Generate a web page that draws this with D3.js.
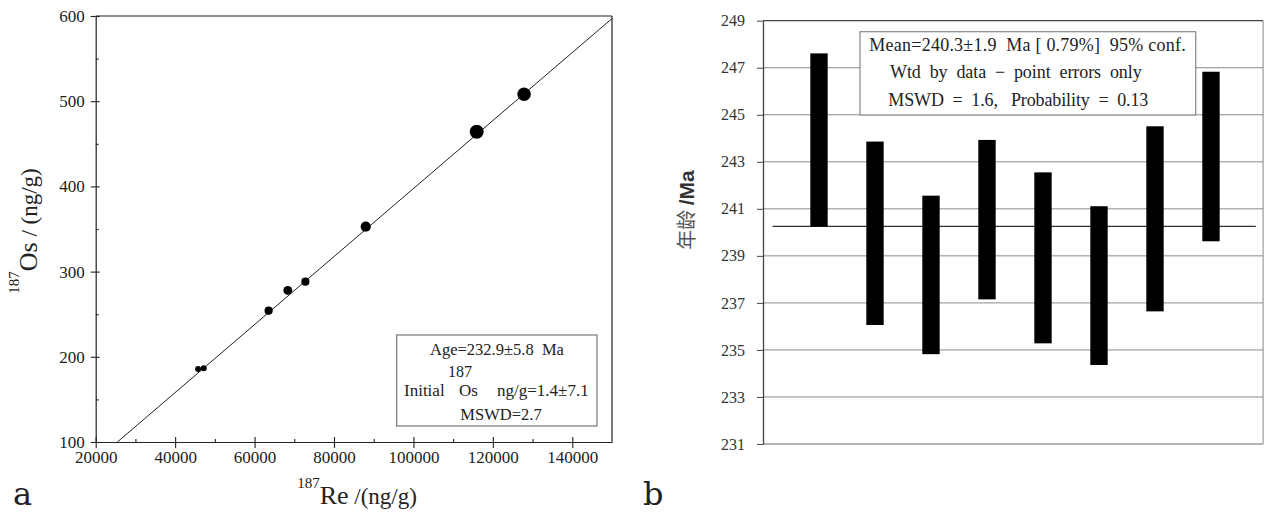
<!DOCTYPE html>
<html><head><meta charset="utf-8">
<script src="https://cdn.jsdelivr.net/npm/d3@7"></script>
<style>body{margin:0;background:#fff}</style>
</head><body><svg id="c" width="1265" height="513"></svg>
<script>
// ---------- Panel a data: Re-Os isochron ----------
const reValues = [45780, 47210, 63540, 68370, 72790, 87990, 115930, 127860];
const osValues = [185.7, 186.5, 254.1, 278.0, 288.2, 352.7, 464.2, 508.1];
const osErrors = [3.5, 3.5, 4.8, 5.2, 4.8, 6.0, 8.2, 7.9];
const isochronRe = [25460, 150000];
const isochronOs = [100, 597];
const xTicksA = [20000, 40000, 60000, 80000, 100000, 120000, 140000];
const xMinorA = [30000, 50000, 70000, 90000, 110000, 130000];
const yTicksA = [100, 200, 300, 400, 500, 600];
const yMinorA = [150, 250, 350, 450, 550];
// ---------- Panel b data: weighted mean ages ----------
const samples = [1, 2, 3, 4, 5, 6, 7, 8];
const ageHigh = [247.61, 243.86, 241.56, 243.93, 242.55, 241.11, 244.51, 246.83];
const ageLow  = [240.24, 236.06, 234.82, 237.15, 235.28, 234.36, 236.64, 239.62];
const meanAge = 240.25;
const yTicksB = [231, 233, 235, 237, 239, 241, 243, 245, 247, 249];

const SERIF = '"Liberation Serif","Times New Roman",serif';
const svg = d3.select("#c");

// ================= Panel a =================
const xA = d3.scaleLinear().domain([20000, 150000]).range([95.7, 612]);
const yA = d3.scaleLinear().domain([100, 600]).range([442, 16]);
const gA = svg.append("g");

// frame top/right
gA.append("line").attr("x1", xA(20000)).attr("x2", xA(150000)).attr("y1", yA(600)).attr("y2", yA(600)).attr("stroke", "#222").attr("stroke-width", 1.2);
gA.append("line").attr("x1", xA(150000)).attr("x2", xA(150000)).attr("y1", yA(600)).attr("y2", yA(100)).attr("stroke", "#222").attr("stroke-width", 1.2);

// x axis
gA.append("g").attr("transform", `translate(0,${yA(100)})`)
  .call(d3.axisBottom(xA).tickValues(xTicksA).tickFormat(d3.format("d")).tickSizeInner(6).tickSizeOuter(0).tickPadding(3));
gA.append("g").attr("transform", `translate(0,${yA(100)})`)
  .call(d3.axisBottom(xA).tickValues(xTicksA).tickFormat("").tickSizeInner(-5).tickSizeOuter(0))
  .select(".domain").remove();
gA.append("g").attr("transform", `translate(0,${yA(100)})`)
  .call(d3.axisBottom(xA).tickValues(xMinorA).tickFormat("").tickSizeInner(-3).tickSizeOuter(0))
  .select(".domain").remove();
// y axis
gA.append("g").attr("transform", `translate(${xA(20000)},0)`)
  .call(d3.axisLeft(yA).tickValues(yTicksA).tickSizeInner(5).tickSizeOuter(0).tickPadding(6));
gA.append("g").attr("transform", `translate(${xA(20000)},0)`)
  .call(d3.axisLeft(yA).tickValues(yTicksA).tickFormat("").tickSizeInner(-4).tickSizeOuter(0))
  .select(".domain").remove();
gA.append("g").attr("transform", `translate(${xA(20000)},0)`)
  .call(d3.axisLeft(yA).tickValues(yMinorA).tickFormat("").tickSizeInner(-3).tickSizeOuter(0))
  .select(".domain").remove();
gA.selectAll(".domain").attr("stroke", "#222").attr("stroke-width", 1.2);
gA.selectAll(".tick line").attr("stroke", "#222").attr("stroke-width", 1.1);
gA.selectAll(".tick text").style("font-family", SERIF).style("font-size", "17px").attr("fill", "#222");

// isochron line
gA.append("line")
  .attr("x1", xA(isochronRe[0])).attr("y1", yA(isochronOs[0]))
  .attr("x2", xA(isochronRe[1])).attr("y2", yA(isochronOs[1]))
  .attr("stroke", "#222").attr("stroke-width", 1);

// points
gA.selectAll("circle.pt").data(reValues).join("circle").attr("class", "pt")
  .attr("cx", d => xA(d)).attr("cy", (d, i) => yA(osValues[i]))
  .attr("r", (d, i) => yA(600 - osErrors[i]) - yA(600))
  .attr("fill", "#000");

// legend box a
const ta = (x, y, size, txt, anchor) => gA.append("text").attr("x", x).attr("y", y)
  .attr("text-anchor", anchor || "start").style("font-family", SERIF).style("font-size", size + "px")
  .style("white-space", "pre").attr("fill", "#222").text(txt);
gA.append("rect").attr("x", 396.7).attr("y", 335).attr("width", 200.3).attr("height", 91)
  .attr("fill", "#fff").attr("stroke", "#777").attr("stroke-width", 1.2);
ta(497, 355, 16.5, "Age=232.9±5.8  Ma", "middle");
ta(404, 396, 17, "Initial");
ta(448, 377, 16, "187");
ta(459, 396, 17, "Os");
ta(497, 396, 17, "ng/g=1.4±7.1");
ta(501, 420, 16.5, "MSWD=2.7", "middle");

// axis titles a
const xt = gA.append("text").attr("x", 357).attr("y", 504).attr("text-anchor", "middle").attr("fill", "#222").style("font-family", SERIF);
xt.append("tspan").style("font-size", "15px").attr("dy", -16).text("187");
xt.append("tspan").style("font-size", "26px").attr("dy", 16).text("Re");
xt.append("tspan").style("font-size", "23px").text(" /(ng/g)");

const yt = gA.append("text").attr("transform", "translate(37,231) rotate(-90)").attr("text-anchor", "middle").attr("fill", "#222").style("font-family", SERIF);
yt.append("tspan").style("font-size", "15px").attr("dy", -18).text("187");
yt.append("tspan").style("font-size", "26px").attr("dy", 18).text("Os");
yt.append("tspan").style("font-size", "23px").text(" / (ng/g)");

svg.append("text").attr("x", 13).attr("y", 505).style("font-family", '"DejaVu Serif",serif').style("font-size", "32px").attr("fill", "#222").text("a");

// ================= Panel b =================
const xB = d3.scaleLinear().domain([0, 9]).range([763, 1267]);
const yB = d3.scaleLinear().domain([231, 249]).range([444, 20.7]);
const gB = svg.append("g");

// gridlines
gB.selectAll("line.grid").data(yTicksB).join("line").attr("class", "grid")
  .attr("x1", xB(0)).attr("x2", xB(8.93)).attr("y1", d => yB(d)).attr("y2", d => yB(d))
  .attr("stroke", d => d === 249 ? "#444" : (d === 231 ? "#666" : "#8a8a8a")).attr("stroke-width", d => d === 249 ? 1.3 : 1);
// right border
gB.append("line").attr("x1", xB(8.93)).attr("x2", xB(8.93)).attr("y1", yB(249)).attr("y2", yB(231)).attr("stroke", "#888");

// y axis
gB.append("g").attr("transform", `translate(${xB(0)},0)`)
  .call(d3.axisLeft(yB).tickValues(yTicksB).tickSizeInner(6).tickSizeOuter(0).tickPadding(12));
gB.selectAll(".domain").attr("stroke", "#444").attr("stroke-width", 1.3);
gB.selectAll(".tick line").attr("stroke", "#444");
gB.selectAll(".tick text").style("font-family", SERIF).style("font-size", "16px").attr("fill", "#333");

// mean line
gB.append("line").attr("x1", xB(0.17)).attr("x2", xB(8.8)).attr("y1", yB(meanAge)).attr("y2", yB(meanAge))
  .attr("stroke", "#333").attr("stroke-width", 1.3);

// bars
const bw = xB(0.31) - xB(0);
gB.selectAll("rect.bar").data(samples).join("rect").attr("class", "bar")
  .attr("x", d => xB(d) - bw / 2).attr("width", bw)
  .attr("y", (d, i) => yB(ageHigh[i])).attr("height", (d, i) => yB(ageLow[i]) - yB(ageHigh[i]))
  .attr("fill", "#000");

// legend box b
gB.append("rect").attr("x", 860).attr("y", 31.7).attr("width", 335.7).attr("height", 83.3)
  .attr("fill", "#fff").attr("stroke", "#888").attr("stroke-width", 1.2);
const legB = [
  {t: "Mean=240.3±1.9  Ma [ 0.79%]  95% conf.", x: 869.3, w: 316.4, y: 51},
  {t: "Wtd  by  data  −  point  errors  only", x: 890, w: 251.7, y: 78},
  {t: "MSWD  =  1.6,   Probability  =  0.13", x: 888.3, w: 260, y: 106}
];
gB.selectAll("text.leg").data(legB).join("text").attr("class", "leg")
  .attr("x", d => d.x).attr("y", d => d.y).attr("textLength", d => d.w).attr("lengthAdjust", "spacing")
  .style("font-family", SERIF).style("font-size", "18px").attr("fill", "#222").style("white-space", "pre").text(d => d.t);

// y title b
const ytb = gB.append("text").attr("transform", "translate(694,210) rotate(-90)").attr("text-anchor", "middle");
ytb.append("tspan").style("font-family", '"Noto Sans CJK SC",sans-serif').style("font-size", "20px").attr("fill", "#555").text("年龄 ");
ytb.append("tspan").style("font-family", '"Liberation Sans",sans-serif').style("font-weight", "bold").style("font-size", "21px").attr("fill", "#333").text("/Ma");

svg.append("text").attr("x", 643).attr("y", 505).style("font-family", '"DejaVu Serif",serif').style("font-size", "32px").attr("fill", "#222").text("b");
</script></body></html>
